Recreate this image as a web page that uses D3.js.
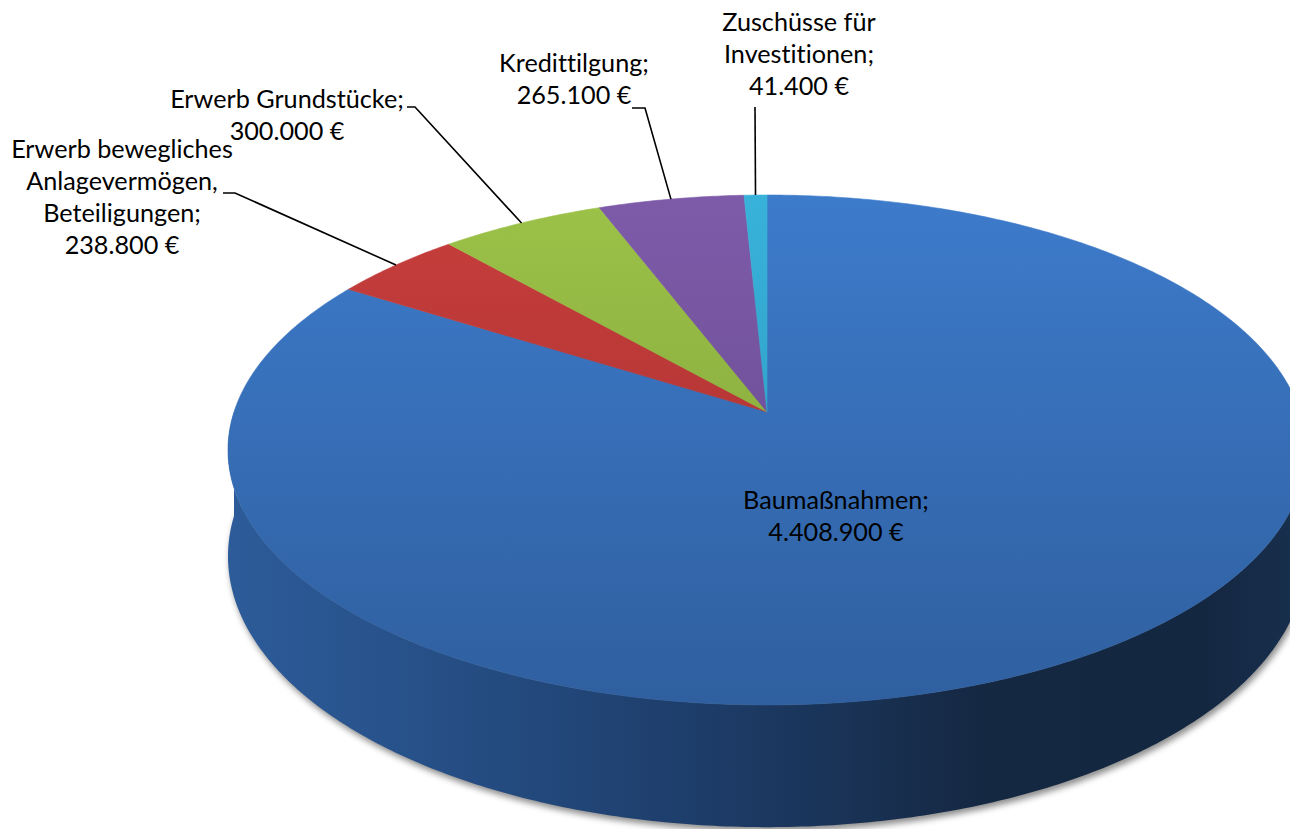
<!DOCTYPE html>
<html>
<head>
<meta charset="utf-8">
<script src="https://cdn.jsdelivr.net/npm/d3@7"></script>
<style>
  html, body { margin: 0; padding: 0; background: #fff; }
  svg { display: block; }
</style>
</head>
<body>
<div id="chart"></div>
<script>
// data
const categories = ["Baumaßnahmen", "Erwerb bewegliches Anlagevermögen, Beteiligungen",
                    "Erwerb Grundstücke", "Kredittilgung", "Zuschüsse für Investitionen"];
const values = [4408900, 238800, 300000, 265100, 41400];
const nameLines = [["Baumaßnahmen;"],
                   ["Erwerb bewegliches", "Anlagevermögen,", "Beteiligungen;"],
                   ["Erwerb Grundstücke;"],
                   ["Kredittilgung;"],
                   ["Zuschüsse für", "Investitionen;"]];
const topColors  = ["#3d7bcb", "#c63e3c", "#9cc248", "#7e5ba9", "#38b2da"];
const baseColors = ["#2f5f9f", "#a52f2f", "#7e9d38", "#62468b", "#2a93ba"];

let width = 1290, height = 829;
let cx = 767, cy = 412;      // pie apex on screen
let rx = 533, ry = 249.3;    // projected radii
let k = 0.149;               // perspective
let depth = 104;             // side thickness
let lineH = 32;

// label layout: text centre x, first baseline y, leader elbow points
const labelLayout = [
  {x: 836, y: 509, leader: null},
  {x: 122, y: 158, leader: [[223, 193], [235, 193]]},
  {x: 287, y: 108, leader: [[407, 107], [415, 107]]},
  {x: 574, y: 72,  leader: [[632, 108], [645, 108]]},
  {x: 799, y: 31,  leader: [[755, 107]]}
];

const de = d3.formatLocale({decimal: ",", thousands: ".", grouping: [3], currency: ["", " €"]});
const fmt = de.format("$,.0f");

// θ clockwise from 12 o'clock, z = 0 top face, 1 bottom
function P(t, z, r = 1) {
  const X = Math.sin(t) * r, Y = Math.cos(t) * r;
  const w = 1 + k * Y;
  return [cx + rx * X / w, cy - ry * Y / w + z * depth / w];
}

const pie = d3.pie().sort(null).value(d => d).startAngle(0).endAngle(2 * Math.PI);
const arcs = pie(values);
const line = d3.line();

function arcPts(a0, a1, z) {
  const n = Math.max(4, Math.ceil((a1 - a0) / 0.01));
  return d3.range(n + 1).map(i => P(a0 + (a1 - a0) * i / n, z));
}

const svg = d3.select("#chart").append("svg")
    .attr("width", width)
    .attr("height", height)
    .style("font-family", "Lato, 'Open Sans', sans-serif")
    .style("font-variant-ligatures", "none");

const defs = svg.append("defs");
defs.append("filter").attr("id", "shadow")
    .attr("x", "-10%").attr("y", "-10%").attr("width", "120%").attr("height", "120%")
  .append("feGaussianBlur").attr("stdDeviation", 3);

topColors.forEach((c, i) => {
  const g = defs.append("linearGradient").attr("id", "top" + i)
      .attr("gradientUnits", "userSpaceOnUse")
      .attr("x1", 0).attr("y1", cy - ry / (1 + k)).attr("x2", 0).attr("y2", cy + ry / (1 - k));
  g.append("stop").attr("offset", 0).attr("stop-color", c);
  g.append("stop").attr("offset", 1).attr("stop-color", baseColors[i]);
});

const side = defs.append("linearGradient").attr("id", "side")
    .attr("gradientUnits", "userSpaceOnUse")
    .attr("x1", cx - rx * 1.02).attr("y1", 0).attr("x2", cx + rx * 1.02).attr("y2", 0);
[[0, "#2d5c9a"], [0.2, "#264f86"], [0.45, "#1d3c68"], [0.7, "#152842"], [0.9, "#142741"], [1, "#18304f"]]
  .forEach(([o, c]) => side.append("stop").attr("offset", o).attr("stop-color", c));

// shadow under the disc
svg.append("path")
    .attr("d", line(arcPts(0, 2 * Math.PI, 1)) + "Z")
    .attr("transform", "translate(2,4)")
    .attr("fill", "rgba(0,0,0,0.45)")
    .attr("filter", "url(#shadow)");

// side wall (only the front half shows)
const a0 = Math.PI / 2, a1 = 3 * Math.PI / 2;
svg.append("path")
    .attr("d", line(arcPts(a0, a1, 0).concat(arcPts(a0, a1, 1).reverse())) + "Z")
    .attr("fill", "url(#side)");

// top face
svg.append("g").selectAll("path")
  .data(arcs)
  .join("path")
    .attr("d", d => line([[cx, cy]].concat(arcPts(d.startAngle, d.endAngle, 0))) + "Z")
    .attr("fill", (d, i) => `url(#top${i})`)
    .attr("stroke", (d, i) => `url(#top${i})`)
    .attr("stroke-width", 0.6);

// leader lines
svg.append("g")
    .attr("fill", "none")
    .attr("stroke", "#000")
    .attr("stroke-width", 1.6)
  .selectAll("path")
  .data(arcs.filter((d, i) => labelLayout[i].leader))
  .join("path")
    .attr("d", d => {
      const mid = (d.startAngle + d.endAngle) / 2;
      return line(labelLayout[d.index].leader.concat([P(mid, 0)]));
    });

// labels
const labels = svg.append("g")
    .attr("text-anchor", "middle")
    .attr("fill", "#000")
  .selectAll("text")
  .data(arcs)
  .join("text")
    .attr("x", d => labelLayout[d.index].x)
    .attr("y", d => labelLayout[d.index].y);

labels.selectAll("tspan")
  .data(d => nameLines[d.index].concat([fmt(d.value)]).map(t => ({t, x: labelLayout[d.index].x})))
  .join("tspan")
    .attr("x", d => d.x)
    .attr("dy", (d, i) => i ? lineH : 0)
    .text(d => d.t);

// fit font size so "Baumaßnahmen;" is about as wide as in the picture
const probe = svg.append("text").style("font-size", "100px").text("Baumaßnahmen;");
const fs = 100 * 186 / probe.node().getComputedTextLength();
probe.remove();
labels.style("font-size", fs + "px");
</script>
</body>
</html>
